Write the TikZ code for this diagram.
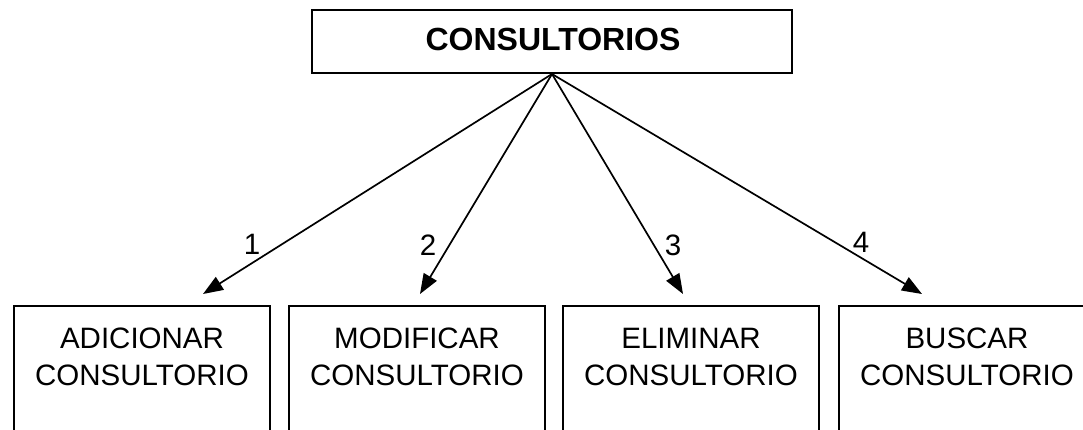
\documentclass[tikz,border=0pt]{standalone}
\usepackage{fontspec}
\setmainfont{Liberation Sans}
\usetikzlibrary{arrows.meta}
\tikzset{
  boxline/.style={draw=black, line width=2pt, fill=none, inner sep=0pt},
  topbox/.style={boxline, minimum width=480pt, minimum height=63pt},
  leafbox/.style={boxline, anchor=north, minimum width=256pt, minimum height=170pt},
  leaftext/.style={inner sep=0pt, align=center, font=\fontsize{29.5}{36.5}\selectfont},
  titletext/.style={inner sep=0pt, font=\fontsize{32}{38}\selectfont\bfseries},
  numtext/.style={inner sep=0pt, font=\fontsize{29.5}{36}\selectfont},
  conn/.style={line width=1.7pt, -{Triangle[length=20pt,width=15pt]}}
}
\begin{document}
\begin{tikzpicture}[x=1pt,y=-1pt]
\useasboundingbox (0,0) rectangle (1083,429);
\clip (0,0) rectangle (1083,429);
\fill[white] (0,0) rectangle (1083,429);
% top box
\node[topbox] (top) at (552,41.5) {};
\node[titletext] (title) at (553,39.5) {CONSULTORIOS};
% leaf boxes
\node[leafbox] (b1) at (142,305) {};
\node[leafbox] (b2) at (417,305) {};
\node[leafbox] (b3) at (691,305) {};
\node[leafbox] (b4) at (967,305) {};
\node[leaftext] (l1) at (142,357) {ADICIONAR\\CONSULTORIO};
\node[leaftext] (l2) at (417,357) {MODIFICAR\\CONSULTORIO};
\node[leaftext] (l3) at (691,357) {ELIMINAR\\CONSULTORIO};
\node[leaftext] (l4) at (967,357) {BUSCAR\\CONSULTORIO};
% arrow tips
\coordinate (t1) at (203,294);
\coordinate (t2) at (420,294);
\coordinate (t3) at (683,294);
\coordinate (t4) at (922,294);
\draw[conn] (top.south) -- (t1);
\draw[conn] (top.south) -- (t2);
\draw[conn] (top.south) -- (t3);
\draw[conn] (top.south) -- (t4);
% numbers
\node[numtext] (n1) at (252,244) {1};
\node[numtext] (n2) at (428,245) {2};
\node[numtext] (n3) at (673,245) {3};
\node[numtext] (n4) at (861,242) {4};
\end{tikzpicture}
\end{document}
